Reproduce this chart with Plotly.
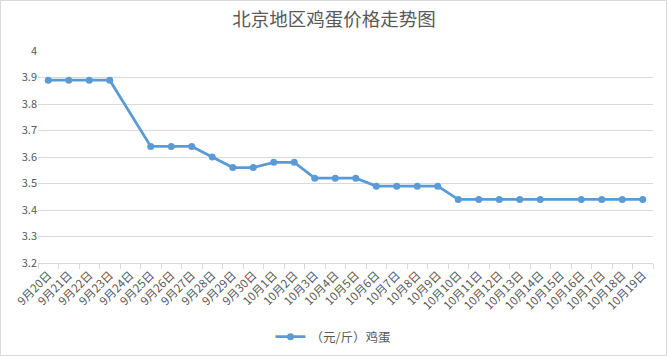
import plotly.graph_objects as go

categories = ["9月20日", "9月21日", "9月22日", "9月23日", "9月24日", "9月25日", "9月26日",
              "9月27日", "9月28日", "9月29日", "9月30日", "10月1日", "10月2日", "10月3日",
              "10月4日", "10月5日", "10月6日", "10月7日", "10月8日", "10月9日", "10月10日",
              "10月11日", "10月12日", "10月13日", "10月14日", "10月15日", "10月16日",
              "10月17日", "10月18日", "10月19日"]
egg_price = [3.89, 3.89, 3.89, 3.89, None, 3.64, 3.64, 3.64, 3.60, 3.56, 3.56, 3.58, 3.58,
             3.52, 3.52, 3.52, 3.49, 3.49, 3.49, 3.49, 3.44, 3.44, 3.44, 3.44, 3.44, None,
             3.44, 3.44, 3.44, 3.44]
series_name = "（元/斤）鸡蛋"
title_text = "北京地区鸡蛋价格走势图"

W, H = 668, 357
L, R, T, B = 38, 15, 51, 94
font_family = "Noto Sans CJK SC, Microsoft YaHei, sans-serif"
gray = "#595959"

fig = go.Figure()
fig.add_trace(go.Scatter(
    x=categories, y=egg_price, name=series_name, mode="lines+markers",
    connectgaps=True,
    line=dict(color="#5B9BD5", width=2.8),
    marker=dict(color="#5B9BD5", size=7),
))

pw = W - L - R
ph = H - T - B
fig.add_shape(type="rect", xref="paper", yref="paper",
              x0=-(L - 0.5) / pw, x1=(W - L - 1.5) / pw,
              y0=-(B - 1.5) / ph, y1=1 + (T - 0.5) / ph,
              line=dict(color="#d9d9d9", width=1), fillcolor="rgba(0,0,0,0)", layer="below")

fig.update_layout(
    width=W, height=H,
    margin=dict(l=L, r=R, t=T, b=B, autoexpand=False),
    paper_bgcolor="white", plot_bgcolor="white",
    font=dict(family=font_family, color=gray, size=11),
    title=dict(text=title_text, x=0.5, xanchor="center", y=1 - 20 / H, yanchor="middle",
               font=dict(size=18.5, color=gray, family=font_family)),
    showlegend=True,
    legend=dict(orientation="h", x=(333 - L) / pw, xanchor="center", yref="container",
                y=1 - 337 / H, yanchor="middle", font=dict(size=12.5, color=gray)),
    xaxis=dict(type="category", tickangle=-45, showgrid=False, showline=True,
               linecolor="#d9d9d9", linewidth=1, ticks="outside", tickson="boundaries",
               ticklen=5, tickcolor="#d9d9d9", tickfont=dict(size=11.5, color=gray),
               range=[-0.5, len(categories) - 0.5], automargin=False),
    yaxis=dict(range=[3.2, 4.0], dtick=0.1, tick0=3.2, showgrid=True, gridcolor="#d9d9d9",
               gridwidth=1, zeroline=False, showline=False, ticks="",
               tickfont=dict(size=11, color=gray), automargin=False),
)

fig.write_html("out.html", config={"displayModeBar": False},
               post_script="document.body.style.margin='0';document.body.style.padding='0';")
